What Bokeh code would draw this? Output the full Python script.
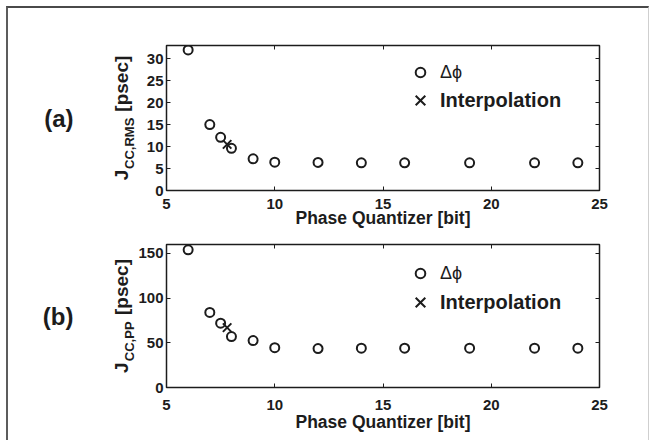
from bokeh.plotting import figure
from bokeh.layouts import column
from bokeh.models import Range1d, FixedTicker, LinearAxis, Legend, LegendItem
from bokeh.embed import file_html
from bokeh.resources import INLINE

# Phase quantizer resolution [bit] and the measured cycle-to-cycle jitter
bits = [6, 7, 7.5, 8, 9, 10, 12, 14, 16, 19, 22, 24]
jcc_rms = [32.0, 15.0, 12.1, 9.6, 7.2, 6.45, 6.4, 6.3, 6.3, 6.3, 6.3, 6.3]
jcc_pp = [154, 84, 72, 57, 52.5, 44.5, 43.5, 44, 44, 44, 44, 44]

# Interpolated operating point
interp_bits = [7.8]
interp_rms = [10.5]
interp_pp = [67]

x_ticks = [5, 10, 15, 20, 25]
rms_ticks = [0, 5, 10, 15, 20, 25, 30]
pp_ticks = [0, 50, 100, 150]

FONT = "Liberation Sans"
INK = "#1c1c1c"
NB = "\u00a0"

# page offsets of the figures inside the bordered column
OX, OY = 8, 8
W = 649 - OX - 1


def style_axis(ax, ticks, labels=True):
    ax.ticker = FixedTicker(ticks=ticks)
    ax.major_tick_in = 4
    ax.major_tick_out = 0
    ax.minor_tick_line_color = None
    ax.major_tick_line_color = INK
    ax.major_tick_line_width = 1
    ax.axis_line_color = None
    ax.major_label_text_font = FONT
    ax.major_label_text_font_style = "bold"
    ax.major_label_text_color = INK
    ax.major_label_text_font_size = "15px"
    if not labels:
        ax.major_label_overrides = {t: "" for t in ticks}
        ax.major_label_standoff = 0


def title_axis(text, size, standoff, orientation="parallel"):
    """An axis that carries only a title (no ticks, no tick labels)."""
    ax = LinearAxis(ticker=FixedTicker(ticks=[]), axis_label=text,
                    axis_label_standoff=standoff,
                    axis_label_text_font=FONT,
                    axis_label_text_font_size=f"{size}px",
                    axis_label_text_font_style="bold",
                    axis_label_text_color=INK,
                    axis_label_orientation=orientation)
    ax.axis_line_color = None
    ax.major_tick_line_color = None
    ax.minor_tick_line_color = None
    ax.major_label_standoff = 0
    return ax


def jitter_panel(height, page_top, page_frame_top, page_frame_bottom, y_max,
                 y_ticks, yvals, iy, sub, sub_pad, j_gap, sub_standoff, tag,
                 legend_y, tick_standoff, xlabel_standoff):
    frame_top = page_frame_top - page_top
    frame_bottom = page_frame_bottom - page_top
    p = figure(width=W, height=height, x_range=Range1d(5, 25),
               y_range=Range1d(0, y_max), output_backend="svg",
               toolbar_location=None, min_border_left=166 - OX,
               min_border_right=649 - 599 - 1, min_border_top=frame_top,
               min_border_bottom=height - frame_bottom,
               background_fill_color="white", border_fill_color="white",
               outline_line_color=INK, outline_line_width=1.5)
    p.grid.visible = False
    p.xaxis.visible = False
    p.yaxis.visible = False

    xb = LinearAxis(axis_label="Phase Quantizer [bit]",
                    axis_label_standoff=xlabel_standoff,
                    axis_label_text_font=FONT,
                    axis_label_text_font_size="17.5px",
                    axis_label_text_font_style="bold",
                    axis_label_text_color=INK)
    style_axis(xb, x_ticks)
    xb.major_label_standoff = tick_standoff
    p.add_layout(xb, "below")

    # left side, from the frame outwards: ticks, subscript, J ... [psec], tag
    yl = LinearAxis()
    style_axis(yl, y_ticks)
    yl.major_label_standoff = 3
    p.add_layout(yl, "left")
    p.add_layout(title_axis(sub + NB * sub_pad, 13, sub_standoff), "left")
    p.add_layout(title_axis("J" + NB * j_gap + "[psec]", 19, -13), "left")
    p.add_layout(title_axis(tag, 24, 34, "horizontal"), "left")

    xt = LinearAxis()
    style_axis(xt, x_ticks, labels=False)
    p.add_layout(xt, "above")
    yr = LinearAxis()
    style_axis(yr, y_ticks, labels=False)
    p.add_layout(yr, "right")

    circ = p.scatter(bits, yvals, marker="circle", size=9, fill_alpha=0,
                     line_color=INK, line_width=2)
    cross = p.scatter(interp_bits, iy, marker="x", size=12, line_color=INK,
                      line_width=2)

    common = dict(padding=0, margin=0, border_line_alpha=0,
                  background_fill_alpha=0, label_text_font=FONT,
                  label_text_color=INK)
    leg_a = Legend(items=[LegendItem(label="Δϕ", renderers=[circ])],
                   location=(242, legend_y[0]), glyph_width=24,
                   glyph_height=24, label_standoff=8,
                   label_text_font_size="18px",
                   label_text_font_style="normal", **common)
    leg_b = Legend(items=[LegendItem(label="Interpolation", renderers=[cross])],
                   location=(237, legend_y[1]), glyph_width=34,
                   glyph_height=34, label_standoff=3,
                   label_text_font_size="20px",
                   label_text_font_style="bold", **common)
    p.add_layout(leg_a, "center")
    p.add_layout(leg_b, "center")
    return p


H1 = 234 - OY
H2 = 440 - 234
p1 = jitter_panel(H1, OY, 45, 190, 33, rms_ticks, jcc_rms, interp_rms,
                  "CC,RMS", 14, 11, 7, "(a)", (106, 73), 8, -4)
p2 = jitter_panel(H2, 234, 244, 387, 160, pp_ticks, jcc_pp, interp_pp,
                  "CC,PP", 14, 9, -1, "(b)", (102, 68), 12, -1)

layout = column(p1, p2, spacing=0, styles={
    "margin-left": "6px", "margin-top": "6px",
    "border-left": "2px solid #5c5c5c", "border-top": "2px solid #4a4a4a",
    "border-right": "1px solid #cfcfcf"})
open("out.html", "w").write(file_html(layout, INLINE))
